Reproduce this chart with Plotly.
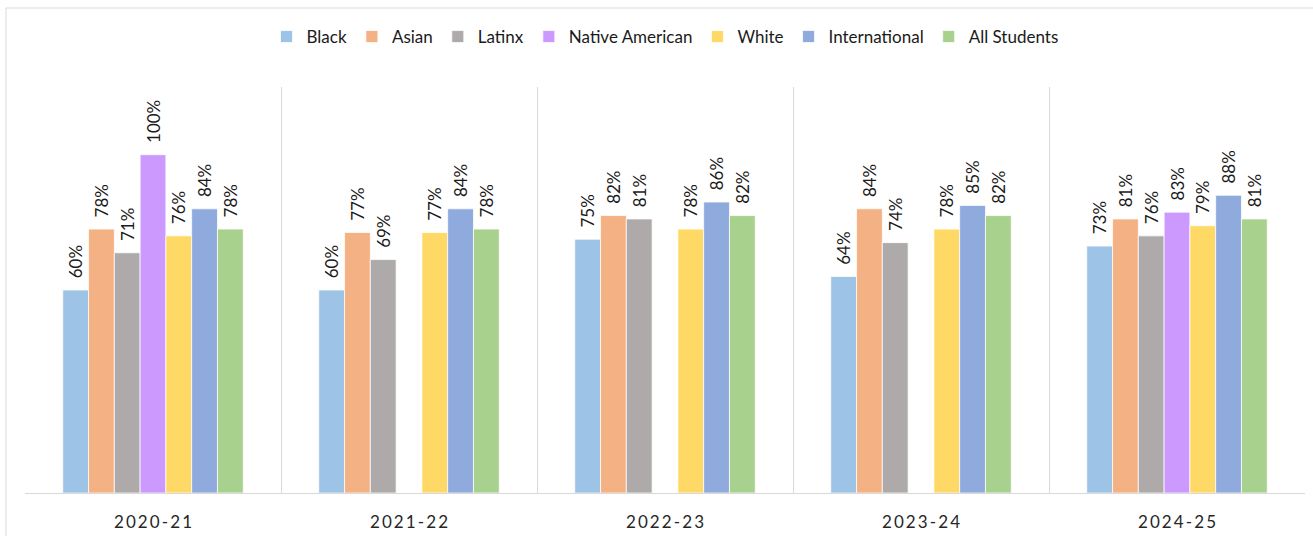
import plotly.graph_objects as go

years = ["2020-21", "2021-22", "2022-23", "2023-24", "2024-25"]
groups = ["Black", "Asian", "Latinx", "Native American", "White", "International", "All Students"]

black = [60, 60, 75, 64, 73]
asian = [78, 77, 82, 84, 81]
latinx = [71, 69, 81, 74, 76]
native_american = [100, None, None, None, 83]
white = [76, 77, 78, 78, 79]
international = [84, 84, 86, 85, 88]
all_students = [78, 78, 82, 82, 81]

series = [black, asian, latinx, native_american, white, international, all_students]
colors = ["#9DC3E6", "#F4B183", "#AEAAAA", "#CC99FF", "#FFD966", "#8FAADC", "#A9D18E"]

FONT = "Lato"
W, H = 1313, 536
ML, MR, MT, MB = 25, 8, 87, 43
PW, PH = W - ML - MR, H - MT - MB

fig = go.Figure()
for name, vals, c in zip(groups, series, colors):
    fig.add_trace(go.Bar(
        x=years, y=vals, name=name,
        marker=dict(color=c, line=dict(color="white", width=0.75)),
        texttemplate="\u00a0\u00a0%{y}%", textposition="outside", textangle=-90,
        textfont=dict(family=FONT, size=17, color="#1a1a1a"),
        cliponaxis=False, constraintext="none",
    ))

ticktext = ["\u2009".join(y) for y in years]

fig.update_layout(
    width=W, height=H,
    margin=dict(l=ML, r=MR, t=MT, b=MB, autoexpand=False),
    paper_bgcolor="white", plot_bgcolor="white",
    barmode="group", bargap=0.295, bargroupgap=0,
    font=dict(family=FONT, color="#262626"),
    legend=dict(orientation="h", x=0.5, xanchor="center",
                y=1 + (MT - 37) / PH, yanchor="middle",
                font=dict(family=FONT, size=17, color="#1a1a1a"),
                itemwidth=30, tracegroupgap=0, bgcolor="rgba(0,0,0,0)"),
    xaxis=dict(type="category", tickson="boundaries", showgrid=True,
               gridcolor="#d9d9d9", gridwidth=1, showline=True,
               linecolor="#d9d9d9", linewidth=1, ticks="",
               tickvals=years, ticktext=ticktext, ticklabelstandoff=14,
               tickfont=dict(family=FONT, size=17, color="#262626")),
    yaxis=dict(range=[0, 120], visible=False, showgrid=False, zeroline=False),
    shapes=[dict(type="rect", xref="paper", yref="paper",
                 x0=(6 - ML) / PW, x1=1.05, y0=-0.3, y1=1 + (MT - 8) / PH,
                 line=dict(color="#d9d9d9", width=1), fillcolor="rgba(0,0,0,0)",
                 layer="below")],
)

fig.write_html("out.html", config={"displayModeBar": False},
               post_script="document.body.style.margin='0px';")
